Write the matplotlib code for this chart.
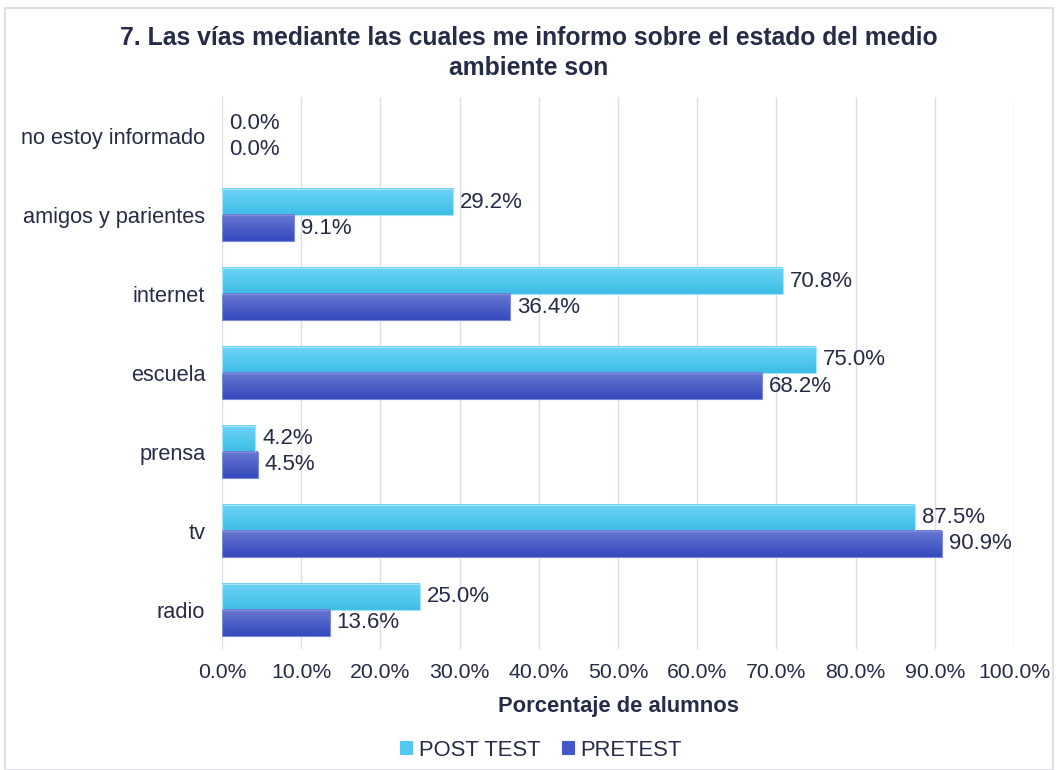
import numpy as np
import matplotlib
matplotlib.use("Agg")
import matplotlib.pyplot as plt
from matplotlib.patches import Rectangle
from matplotlib.colors import LinearSegmentedColormap

categories = ["radio", "tv", "prensa", "escuela", "internet", "amigos y parientes", "no estoy informado"]
post_test = [25.0, 87.5, 4.2, 75.0, 70.8, 29.2, 0.0]
pretest = [13.6, 90.9, 4.5, 68.2, 36.4, 9.1, 0.0]
series_names = ["POST TEST", "PRETEST"]
xticks = [0, 10, 20, 30, 40, 50, 60, 70, 80, 90, 100]

TXT = "#262B47"
plt.rcParams['font.family'] = ['Liberation Sans', 'DejaVu Sans']

fig = plt.figure(figsize=(10.58, 7.70), dpi=100)
ax = fig.add_axes([222/1058, 1-649/770, (1014-222)/1058, (649-97)/770])

y = np.arange(len(categories))
h = 0.33
bp = ax.barh(y + h/2, post_test, height=h, color="#52C8F0", label=series_names[0], zorder=2)
bq = ax.barh(y - h/2, pretest, height=h, color="#4458C6", label=series_names[1], zorder=2)

cm_post = LinearSegmentedColormap.from_list("p", ["#3DBDE6", "#6DD4F7"])
cm_pre = LinearSegmentedColormap.from_list("q", ["#3549BD", "#6878D2"])
grad = np.linspace(0, 1, 64).reshape(-1, 1)
for bars, cm in ((bp, cm_post), (bq, cm_pre)):
    for p in bars:
        w = p.get_width()
        if w <= 0:
            continue
        x0, y0, hh = p.get_x(), p.get_y(), p.get_height()
        ax.imshow(grad, cmap=cm, extent=(x0, x0 + w, y0, y0 + hh), origin="lower",
                  aspect="auto", zorder=3, interpolation="bilinear")
        p.set_facecolor("none")
        p.set_edgecolor("#A8E4F8" if cm is cm_post else "#7E8ADA")
        p.set_linewidth(0.8)
        p.set_zorder(4)

for bars, vals in ((bp, post_test), (bq, pretest)):
    for p, v in zip(bars, vals):
        ax.annotate(f"{v:.1f}%", (p.get_width(), p.get_y() + p.get_height()/2),
                    xytext=(5, 0), textcoords="offset points", va="center", ha="left",
                    fontsize=16, color=TXT, zorder=5)

ax.set_xlim(0, 100)
ax.set_ylim(-0.5, len(categories) - 0.5)
ax.set_xticks(xticks)
ax.set_xticklabels([f"{t:.1f}%" for t in xticks])
ax.set_yticks(y)
ax.set_yticklabels(categories)
ax.tick_params(axis="both", length=0, colors=TXT)
ax.tick_params(axis="x", pad=10, labelsize=15.3)
ax.tick_params(axis="y", pad=12, labelsize=15.7)
ax.grid(axis="x", color="#DCDCEC", linewidth=1.0, zorder=0)
for s in ax.spines.values():
    s.set_visible(False)

ax.set_xlabel("Porcentaje de alumnos", fontsize=15.8, fontweight="bold", color=TXT, labelpad=10)

fig.text(0.5, 1 - 53/770, "7. Las vías mediante las cuales me informo sobre el estado del medio\nambiente son",
         ha="center", va="center", fontsize=17.8, fontweight="bold", color=TXT, linespacing=1.35)

leg = fig.legend(handles=[bp, bq], labels=series_names, loc="center", bbox_to_anchor=(541/1058, 1 - 750/770),
                 ncol=2, frameon=False, fontsize=15.8, handlelength=0.55, handleheight=0.55,
                 handletextpad=0.3, columnspacing=1.0)
for t in leg.get_texts():
    t.set_color(TXT)
for hd, c in zip(leg.legend_handles, ["#52C8F0", "#4458C6"]):
    hd.set_facecolor(c)
    hd.set_edgecolor(c)

fig.patches.append(Rectangle((5/1058, 0), 1 - 10/1058, 1 - 8/770, transform=fig.transFigure,
                             fill=False, edgecolor="#D9D9E6", linewidth=1.2))

fig.savefig("out.png", dpi=100)
